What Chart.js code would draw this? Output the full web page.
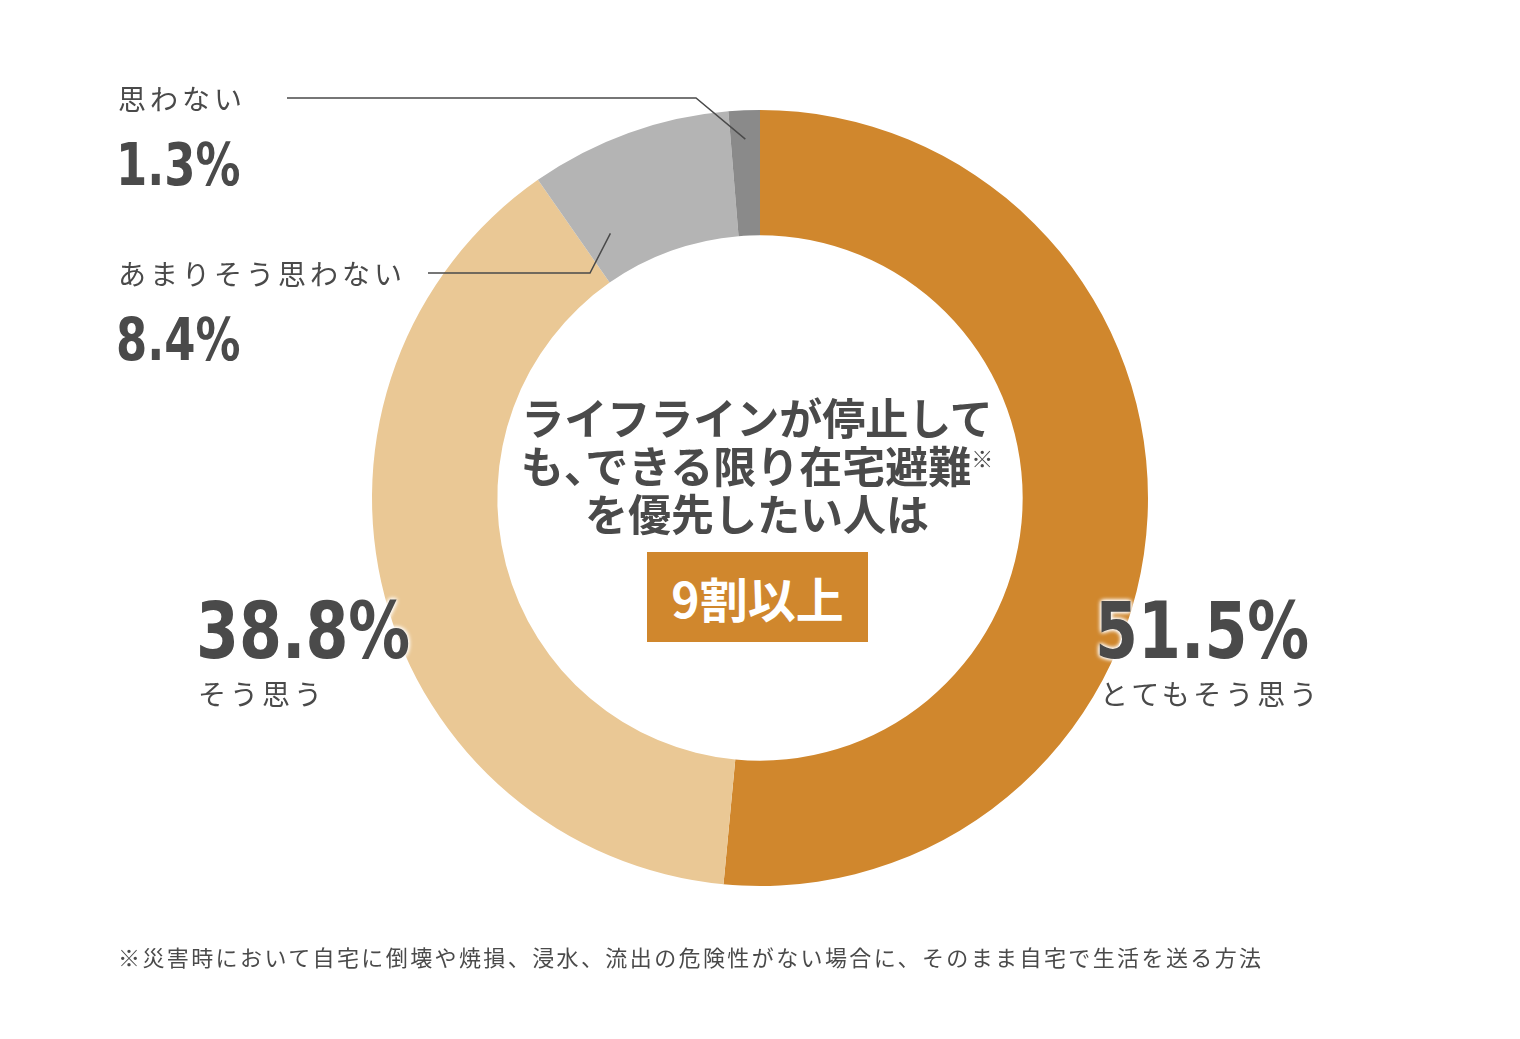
<!DOCTYPE html>
<html lang="ja">
<head>
<meta charset="UTF-8">
<title>在宅避難 意識調査</title>
<style>
    body {
        margin: 0;
        width: 1520px;
        height: 1039px;
        background: #ffffff;
        font-family: "Noto Sans CJK JP", "Noto Sans", sans-serif;
        color: #4a4a4a;
        position: relative;
        overflow: hidden;
    }

    #donut {
        position: absolute;
        left: 0;
        top: 0;
    }

    .label {
        position: absolute;
        font-size: 28px;
        letter-spacing: 4px;
        line-height: 1;
        white-space: nowrap;
    }

    .pct {
        position: absolute;
        font-family: "DejaVu Sans Condensed", "Noto Sans", sans-serif;
        font-weight: bold;
        line-height: 1;
        white-space: nowrap;
        color: #4a4a4a;
        transform-origin: 0 0;
    }

    .pct.small {
        font-size: 58px;
        transform: scaleX(0.86);
    }

    .pct.big {
        font-size: 78px;
        transform: scaleX(0.88);
        text-shadow: 0 0 6px #fff, 0 0 6px #fff, 0 0 4px #fff;
    }

    .center {
        position: absolute;
        left: 457px;
        width: 600px;
        top: 392px;
        text-align: center;
        font-size: 43px;
        font-weight: bold;
        line-height: 48px;
        white-space: nowrap;
    }

    .center .comma {
        letter-spacing: -0.5em;
    }

    .center sup {
        font-size: 22px;
        font-weight: normal;
        vertical-align: 16px;
        line-height: 0;
    }

    .badge {
        position: absolute;
        left: 647px;
        top: 552px;
        width: 221px;
        height: 90px;
        background: #d0872d;
        color: #fff;
        font-size: 48px;
        font-weight: bold;
        line-height: 90px;
        text-align: center;
    }

    .note {
        position: absolute;
        left: 118px;
        top: 945px;
        font-size: 22px;
        letter-spacing: 2.4px;
        line-height: 1;
        white-space: nowrap;
    }
</style>
</head>
<body>
<canvas id="donut" width="1520" height="1039"></canvas>

<div class="label" id="lab3" style="left:118px; top:84px;"></div>
<div class="pct small" id="pct3" style="left:116px; top:136px;"></div>
<div class="label" id="lab2" style="left:118px; top:259px;"></div>
<div class="pct small" id="pct2" style="left:116px; top:311px;"></div>
<div class="pct big" id="pct1" style="left:196px; top:592px;"></div>
<div class="label" id="lab1" style="left:198px; top:679px;"></div>
<div class="pct big" id="pct0" style="left:1095px; top:592px;"></div>
<div class="label" id="lab0" style="left:1100px; top:679px;"></div>

<div class="center">
    ライフラインが停止して<br>
    も<span class="comma">、</span>できる限り在宅避難<sup>※</sup><br>
    を優先したい人は
</div>
<div class="badge">9割以上</div>

<div class="note">※災害時において自宅に倒壊や焼損、浸水、流出の危険性がない場合に、そのまま自宅で生活を送る方法</div>

<script src="https://cdn.jsdelivr.net/npm/chart.js"></script>
<script>
    var answers = ['とてもそう思う', 'そう思う', 'あまりそう思わない', '思わない'];
    var shares = [51.5, 38.8, 8.4, 1.3];
    var sliceColors = ['#d0872d', '#eac895', '#b4b4b4', '#8a8a8a'];

    // labels and numbers next to the ring
    for (var i = 0; i < answers.length; i++) {
        document.getElementById('lab' + i).innerText = answers[i];
        document.getElementById('pct' + i).innerText = shares[i].toFixed(1) + '%';
    }

    // leader lines for the two thin slices
    var leaders = [
        { index: 3, frac: 0.5, depth: 0.77, elbowX: 696, elbowY: 98, startX: 287 },
        { index: 2, frac: 0.18, depth: 0.33, elbowX: 590, elbowY: 273, startX: 428 }
    ];

    var leaderPlugin = {
        id: 'leaders',
        afterDatasetsDraw: function (chart) {
            var ctx = chart.ctx;
            var arcs = chart.getDatasetMeta(0).data;
            ctx.save();
            ctx.strokeStyle = '#4a4a4a';
            ctx.lineWidth = 1.5;
            leaders.forEach(function (l) {
                var arc = arcs[l.index];
                var a = arc.startAngle + (arc.endAngle - arc.startAngle) * l.frac;
                var r = arc.innerRadius + (arc.outerRadius - arc.innerRadius) * l.depth;
                var px = arc.x + Math.cos(a) * r;
                var py = arc.y + Math.sin(a) * r;
                ctx.beginPath();
                ctx.moveTo(l.startX, l.elbowY);
                ctx.lineTo(l.elbowX, l.elbowY);
                ctx.lineTo(px, py);
                ctx.stroke();
            });
            ctx.restore();
        }
    };

    new Chart(document.getElementById('donut'), {
        type: 'doughnut',
        data: {
            labels: answers,
            datasets: [{
                data: shares,
                backgroundColor: sliceColors,
                borderWidth: 0
            }]
        },
        options: {
            responsive: false,
            animation: false,
            cutout: '67.7%',
            layout: {
                padding: { left: 372, right: 372, top: 110, bottom: 153 }
            },
            plugins: {
                legend: { display: false },
                tooltip: { enabled: false }
            }
        },
        plugins: [leaderPlugin]
    });
</script>
</body>
</html>
